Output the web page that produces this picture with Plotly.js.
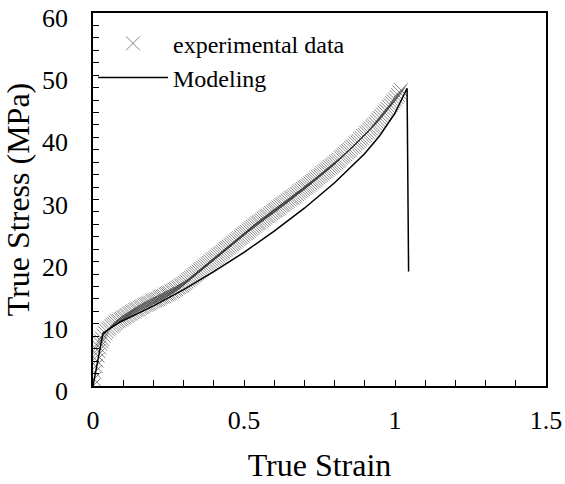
<!DOCTYPE html>
<html>
<head>
<meta charset="utf-8">
<script src="https://cdn.plot.ly/plotly-3.0.1.min.js"></script>
<style>html,body{margin:0;padding:0;background:#fff}#chart{width:565px;height:484px}</style>
</head>
<body>
<div id="chart"></div>
<script>
// Experimental data (true strain, true stress MPa)
const expStrain = [0,0.003,0.006,0.009,0.012,0.015,0.018,0.021,0.024,0.027,0.03,0.035,0.04,0.045,0.05,0.055,0.06,0.065,0.07,0.075,0.08,0.085,0.09,0.095,0.10,0.105,0.11,0.115,0.12,0.125,0.13,0.135,0.14,0.145,0.15,0.155,0.16,0.165,0.17,0.175,0.18,0.185,0.19,0.195,0.20,0.205,0.21,0.215,0.22,0.225,0.23,0.235,0.24,0.245,0.25,0.255,0.26,0.265,0.27,0.275,0.28,0.285,0.29,0.295,0.30,0.305,0.31,0.315,0.32,0.325,0.33,0.335,0.34,0.345,0.35,0.355,0.36,0.365,0.37,0.375,0.38,0.385,0.39,0.395,0.40,0.405,0.41,0.415,0.42,0.425,0.43,0.435,0.44,0.445,0.45,0.455,0.46,0.465,0.47,0.475,0.48,0.485,0.49,0.495,0.50,0.505,0.51,0.515,0.52,0.525,0.53,0.535,0.54,0.545,0.55,0.555,0.56,0.565,0.57,0.575,0.58,0.585,0.59,0.595,0.60,0.605,0.61,0.615,0.62,0.625,0.63,0.635,0.64,0.645,0.65,0.655,0.66,0.665,0.67,0.675,0.68,0.685,0.69,0.695,0.70,0.705,0.71,0.715,0.72,0.725,0.73,0.735,0.74,0.745,0.75,0.755,0.76,0.765,0.77,0.775,0.78,0.785,0.79,0.795,0.80,0.805,0.81,0.815,0.82,0.825,0.83,0.835,0.84,0.845,0.85,0.855,0.86,0.865,0.87,0.875,0.88,0.885,0.89,0.895,0.90,0.905,0.91,0.915,0.92,0.925,0.93,0.935,0.94,0.945,0.95,0.955,0.96,0.965,0.97,0.975,0.98,0.985,0.99,0.995,1.00,1.005,1.01,1.015,1.02,1.025,1.03];
const expStress = [0,1.1,2.2,3.2,4.1,4.9,5.6,6.2,6.8,7.2,7.6,8.1,8.5,8.8,9.1,9.3,9.6,9.8,10.0,10.2,10.4,10.5,10.7,10.8,11.0,11.1,11.3,11.4,11.6,11.7,11.9,12.0,12.2,12.3,12.4,12.6,12.7,12.8,13.0,13.1,13.2,13.3,13.4,13.6,13.7,13.8,13.9,14.0,14.2,14.3,14.4,14.5,14.7,14.8,14.9,15.0,15.2,15.3,15.5,15.6,15.8,15.9,16.1,16.2,16.4,16.6,16.8,17.0,17.2,17.4,17.6,17.8,18.0,18.2,18.4,18.6,18.8,19.0,19.2,19.4,19.6,19.8,20.0,20.2,20.4,20.6,20.8,21.0,21.2,21.4,21.6,21.8,22.0,22.2,22.4,22.6,22.8,23.0,23.2,23.4,23.6,23.8,24.0,24.2,24.4,24.6,24.8,25.0,25.2,25.4,25.6,25.8,26.0,26.2,26.3,26.5,26.7,26.9,27.1,27.3,27.4,27.6,27.8,28.0,28.2,28.3,28.5,28.7,28.9,29.1,29.2,29.4,29.6,29.8,30.0,30.2,30.3,30.5,30.7,30.9,31.1,31.3,31.5,31.7,31.9,32.0,32.2,32.4,32.6,32.8,33.0,33.2,33.4,33.6,33.8,34.0,34.2,34.4,34.6,34.8,35.0,35.2,35.4,35.6,35.8,36.0,36.2,36.4,36.7,36.9,37.1,37.3,37.6,37.8,38.0,38.3,38.5,38.7,39.0,39.2,39.4,39.7,39.9,40.2,40.4,40.7,40.9,41.2,41.4,41.7,41.9,42.2,42.5,42.8,43.1,43.4,43.7,44.0,44.3,44.6,44.9,45.2,45.5,45.8,46.1,46.5,46.8,47.2,47.6];

// Model curve
const modelStrain = [0,0.033,0.09,0.2,0.3,0.4,0.5,0.6,0.7,0.8,0.9,0.95,1.0,1.04,1.045];
const modelStress = [0,8.5,10.3,12.9,15.5,18.4,21.5,24.9,28.6,32.7,37.4,40.3,43.9,47.9,18.4];

const seriesNames = ["experimental data","Modeling"];

const font = "Liberation Serif";

const traces = [
  {
    x: expStrain, y: expStress, name: seriesNames[0],
    type: "scatter", mode: "markers",
    marker: {symbol: "x-thin", size: 14, color: "#666", line: {color: "rgba(55,55,55,0.6)", width: 1}}
  },
  {
    x: modelStrain, y: modelStress, name: seriesNames[1],
    type: "scatter", mode: "lines",
    line: {color: "#000", width: 1.5}
  }
];

const layout = {
  width: 565, height: 484,
  margin: {l: 93, r: 19, t: 13, b: 98},
  paper_bgcolor: "#fff", plot_bgcolor: "#fff",
  font: {family: font, size: 24, color: "#000"},
  showlegend: true,
  legend: {x: 0, y: 0.978, xanchor: "left", yanchor: "top", bgcolor: "rgba(0,0,0,0)",
           font: {family: font, size: 24, color: "#000"}, itemwidth: 70, tracegroupgap: 0},
  xaxis: {
    range: [0, 1.5], dtick: 0.5, tick0: 0,
    ticks: "inside", ticklen: 6, tickcolor: "#000", tickwidth: 1,
    minor: {dtick: 0.1, ticks: "inside", ticklen: 6, tickcolor: "#000", tickwidth: 1},
    showline: true, linecolor: "#000", linewidth: 1.5, mirror: true,
    showgrid: false, zeroline: false,
    tickfont: {family: font, size: 26, color: "#000"}, ticklabelstandoff: 10,
    title: {text: "True Strain", font: {family: font, size: 32, color: "#000"}, standoff: 20}
  },
  yaxis: {
    range: [0, 60], dtick: 10, tick0: 0,
    ticks: "inside", ticklen: 6, tickcolor: "#000", tickwidth: 1,
    minor: {dtick: 2, ticks: "inside", ticklen: 6, tickcolor: "#000", tickwidth: 1},
    showline: true, linecolor: "#000", linewidth: 1.5, mirror: true,
    showgrid: false, zeroline: false,
    tickfont: {family: font, size: 26, color: "#000"}, ticklabelstandoff: 18, ticklabelshift: 5,
    title: {text: "True Stress (MPa)", font: {family: font, size: 32, color: "#000"}, standoff: 8}
  }
};

Plotly.newPlot("chart", traces, layout, {displayModeBar: false, responsive: false});
</script>
</body>
</html>
